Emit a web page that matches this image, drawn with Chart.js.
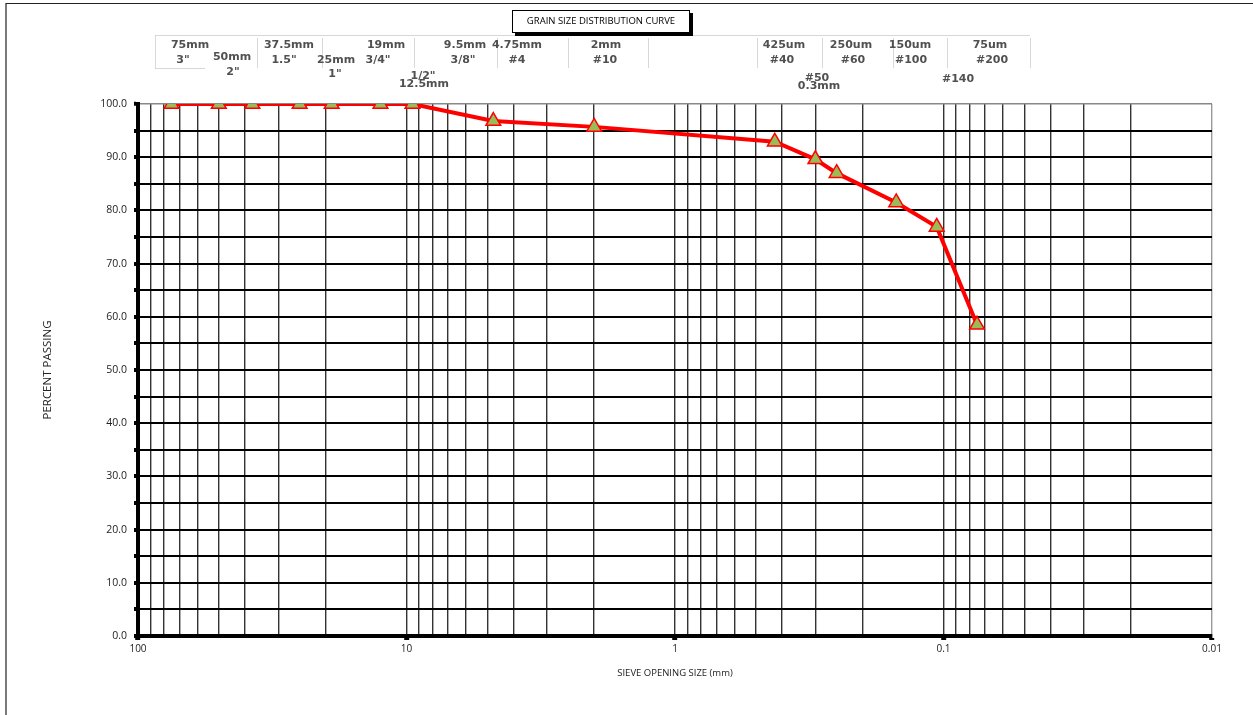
<!DOCTYPE html>
<html>
<head>
<meta charset="utf-8">
<script src="https://cdn.jsdelivr.net/npm/chart.js@4.4.1/dist/chart.umd.min.js"></script>
<style>
html,body{margin:0;padding:0;background:#fff;}
#wrap{position:relative;width:1253px;height:715px;}
</style>
</head>
<body>
<div id="wrap"><canvas id="c"></canvas></div>
<script>
// ---- data ----
const sieveSizes = [75, 50, 37.5, 25, 19, 12.5, 9.5, 4.75, 2, 0.425, 0.3, 0.25, 0.15, 0.106, 0.075];
const percentPassing = [100, 100, 100, 100, 100, 100, 100, 96.8, 95.7, 92.9, 89.6, 87.0, 81.5, 76.9, 58.5];
const xDecades = [100, 10, 1, 0.1, 0.01];
const xDecadeLabels = ['100', '10', '1', '0.1', '0.01'];
const xMinorMultipliers = [2, 3, 4, 5, 6, 7, 8, 9];
const yTickLabels = ['0.0','10.0','20.0','30.0','40.0','50.0','60.0','70.0','80.0','90.0','100.0'];

// header sieve annotation texts [text, x, y]
const headerLabels = [
  ['75mm',190,45],['3"',183,60],['50mm',232,57],['2"',233,72],
  ['37.5mm',289,45],['1.5"',284,60],['25mm',336,60],['1"',335,74],
  ['19mm',386,45],['3/4"',378,60],['1/2"',423,76],['12.5mm',424,84],
  ['9.5mm',465,45],['3/8"',463,60],['4.75mm',517,45],['#4',517,60],
  ['2mm',606,45],['#10',605,60],
  ['425um',784,45],['#40',782,60],['#50',817,78],['0.3mm',819,86],
  ['250um',851,45],['#60',853,60],['150um',910,45],['#100',911,60],
  ['75um',990,45],['#200',992,60],['#140',958,79]
];
const chartTitle = 'GRAIN SIZE DISTRIBUTION CURVE';

const points = sieveSizes.map((s, i) => ({x: s, y: percentPassing[i]}));

function isDecade(v){
  return xDecades.some(d => Math.abs(v - d) / d < 1e-6);
}

const decorPlugin = {
  id: 'decor',
  beforeDraw(chart){
    const ctx = chart.ctx;
    ctx.save();
    ctx.fillStyle = '#fff';
    ctx.fillRect(0,0,chart.width,chart.height);
    // outer border (top & left)
    ctx.strokeStyle = '#222';
    ctx.lineWidth = 1.2;
    ctx.beginPath();
    ctx.moveTo(6, 715); ctx.lineTo(6, 3.5); ctx.lineTo(1253, 3.5);
    ctx.stroke();
    // faint header table
    ctx.strokeStyle = '#d8d8d8';
    ctx.lineWidth = 1;
    ctx.beginPath();
    ctx.moveTo(155, 35.5); ctx.lineTo(1030, 35.5);
    ctx.moveTo(155.5, 35); ctx.lineTo(155.5, 68);
    ctx.moveTo(155, 68.5); ctx.lineTo(205, 68.5);
    [257, 322, 414, 497, 568, 648, 757, 822, 893, 947, 1030].forEach(x => {
      ctx.moveTo(x + 0.5, 38); ctx.lineTo(x + 0.5, 68);
    });
    ctx.stroke();
    // header texts
    ctx.fillStyle = '#505050';
    ctx.font = 'bold 11px "DejaVu Sans", Verdana, sans-serif';
    ctx.textAlign = 'center';
    ctx.textBaseline = 'middle';
    headerLabels.forEach(([t,x,y]) => ctx.fillText(t, x, y));
    // title box with shadow
    ctx.fillStyle = '#000';
    ctx.fillRect(515, 13, 178, 23);
    ctx.fillStyle = '#fff';
    ctx.fillRect(512, 10, 178, 23);
    ctx.strokeStyle = '#000';
    ctx.lineWidth = 1;
    ctx.strokeRect(512.5, 10.5, 177, 22);
    ctx.fillStyle = '#000';
    ctx.font = '9.5px "Open Sans", sans-serif';
    ctx.fillText(chartTitle, 601, 21.5);
    ctx.restore();
  }
};

new Chart(document.getElementById('c'), {
  type: 'line',
  data: {
    datasets: [{
      data: points,
      borderColor: '#ff0000',
      borderWidth: 4,
      tension: 0,
      pointStyle: 'triangle',
      pointRadius: 8.5,
      pointHoverRadius: 8.5,
      pointBackgroundColor: '#9BBB59',
      pointBorderColor: '#ff0000',
      pointBorderWidth: 1.5
    }]
  },
  options: {
    responsive: true,
    maintainAspectRatio: false,
    animation: false,
    events: [],
    layout: {padding: {left: 0, top: 104, right: 41, bottom: 0}},
    plugins: {legend: {display: false}, tooltip: {enabled: false}},
    scales: {
      x: {
        type: 'logarithmic',
        reverse: true,
        min: 0.01,
        max: 100,
        afterBuildTicks(scale){
          const t = [];
          xDecades.forEach(d => {
            t.push({value: d});
            if (d < 100) xMinorMultipliers.forEach(m => t.push({value: d * m}));
          });
          scale.ticks = t.sort((a,b) => a.value - b.value);
        },
        afterFit(scale){ scale.height = 79; },
        ticks: {
          autoSkip: false,
          maxRotation: 0,
          padding: 3,
          color: '#222',
          font: {family: '"Open Sans", sans-serif', size: 10},
          callback(v){
            const i = xDecades.findIndex(d => Math.abs(v - d) / d < 1e-6);
            return i >= 0 ? xDecadeLabels[i] : '';
          }
        },
        grid: {
          color: ctx => (ctx.tick && Math.abs(ctx.tick.value - 0.01) < 1e-9) ? '#999' : '#333',
          lineWidth: 1.4,
          drawTicks: true,
          tickLength: 4,
          tickWidth: ctx => (ctx.tick && isDecade(ctx.tick.value)) ? 5 : 0,
          tickColor: ctx => (ctx.tick && isDecade(ctx.tick.value)) ? '#000' : 'rgba(0,0,0,0)'
        },
        border: {display: true, color: '#000', width: 4},
        title: {
          display: true,
          text: 'SIEVE OPENING SIZE (mm)',
          color: '#222',
          font: {family: '"Open Sans", sans-serif', size: 9.5},
          padding: {top: 0, bottom: 36}
        }
      },
      y: {
        type: 'linear',
        min: 0,
        max: 100,
        afterBuildTicks(scale){
          const t = [];
          for (let i = 0; i < yTickLabels.length; i++) {
            t.push({value: parseFloat(yTickLabels[i])});
            if (i < yTickLabels.length - 1) t.push({value: parseFloat(yTickLabels[i]) + 5});
          }
          scale.ticks = t;
        },
        afterFit(scale){ scale.width = 138; },
        ticks: {
          autoSkip: false,
          padding: 7,
          color: '#222',
          font: {family: '"Open Sans", sans-serif', size: 10.5},
          callback(v){
            const i = yTickLabels.findIndex(l => parseFloat(l) === v);
            return i >= 0 ? yTickLabels[i] : '';
          }
        },
        grid: {
          color: ctx => (ctx.tick && ctx.tick.value === 100) ? '#888' : '#000',
          lineWidth: ctx => (ctx.tick && ctx.tick.value === 100) ? 1.5 : 2,
          drawTicks: true,
          tickLength: 4,
          tickWidth: 4,
          tickColor: '#000'
        },
        border: {display: true, color: '#000', width: 4},
        title: {
          display: true,
          text: 'PERCENT PASSING',
          color: '#222',
          font: {family: '"Open Sans", sans-serif', size: 11.5},
          padding: {top: 41, bottom: 0}
        }
      }
    }
  },
  plugins: [decorPlugin]
});
</script>
</body>
</html>
